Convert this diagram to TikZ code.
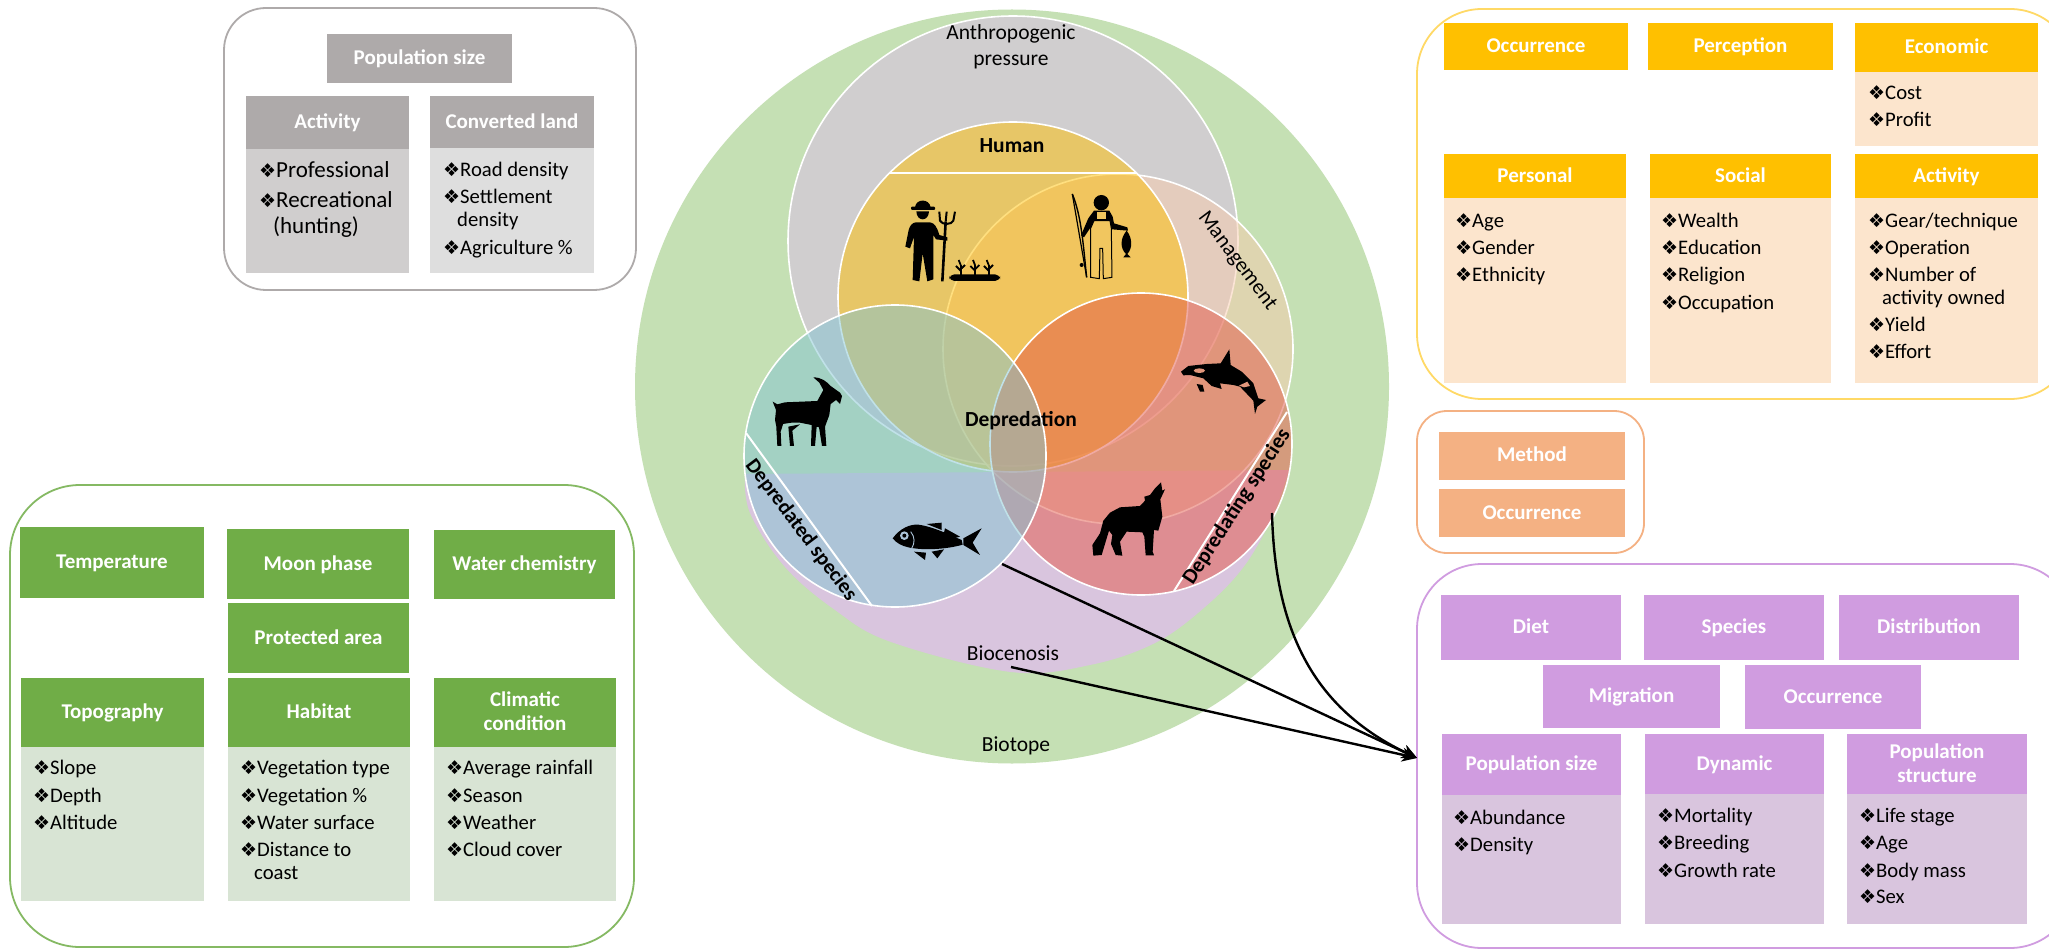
\documentclass[tikz,border=0pt]{standalone}
\usepackage{fontspec}
\setmainfont{Carlito}
\newfontfamily\djv{DejaVu Sans}
\usetikzlibrary{arrows.meta}
\definecolor{cGreen}{RGB}{197,224,180}
\definecolor{cGray}{RGB}{208,206,207}
\definecolor{cPurp}{RGB}{217,197,222}
\definecolor{cMgmt}{RGB}{248,203,173}
\definecolor{cHum}{RGB}{255,192,0}
\definecolor{cWolf}{RGB}{227,87,72}
\definecolor{cTeal}{RGB}{130,196,210}
\definecolor{hGreen}{RGB}{112,173,71}
\definecolor{bGreen}{RGB}{216,228,212}
\definecolor{hGray}{RGB}{174,170,170}
\definecolor{bGray}{RGB}{208,206,206}
\definecolor{bGray2}{RGB}{222,222,222}
\definecolor{hYel}{RGB}{255,192,0}
\definecolor{bYel}{RGB}{252,229,205}
\definecolor{hOr}{RGB}{244,177,131}
\definecolor{hPur}{RGB}{208,156,224}
\definecolor{bPur}{RGB}{217,197,222}
\definecolor{bgFish}{RGB}{172,196,216}
\definecolor{bgOrca}{RGB}{225,150,123}
\definecolor{bgMan}{RGB}{241,198,95}
\tikzset{
  venn/.style={draw=white,line width=1.6pt,fill opacity=.5,draw opacity=1},
  panel/.style={line width=1.8pt,fill=white},
  boxn/.style={inner sep=0pt,align=center,text=white,font=\fontsize{21}{24}\selectfont\bfseries},
  lbl/.style={inner sep=0pt,align=center,text=black,font=\fontsize{21.5}{26}\selectfont},
  lblb/.style={lbl,font=\fontsize{21.5}{26}\selectfont\bfseries},
  itemn/.style={inner sep=0pt,anchor=base west,text=black},
  conn/.style={black,line width=2.4pt,-{Stealth[length=15pt,width=14pt]}},
  chord/.style={white,line width=2pt},
}
\newcommand\bx[7]{%
  \pgfmathsetmacro\bw{#5-#3}\pgfmathsetmacro\bh{#6-#4}%
  \pgfmathsetmacro\bcx{(#3+#5)/2}\pgfmathsetmacro\bcy{(#4+#6)/2}%
  \node[boxn,fill=#2,minimum width=\bw pt,minimum height=\bh pt] (#1) at (\bcx,\bcy) {\raisebox{-6.5pt}[0pt][0pt]{\begin{tabular}{@{}c@{}}#7\end{tabular}}};}
\newcounter{lic}
\newcommand\li[4][20.7]{%
  \stepcounter{lic}%
  \pgfmathsetmacro\ly{#3+7.2}%
  \node[itemn,font=\fontsize{#1}{24}\selectfont] (li\thelic) at (#2,\ly) {\makebox[0pt][l]{\raisebox{-.5pt}{\djv\fontsize{19}{24}\selectfont ❖}}\hspace{17pt}#4};}
\newcommand\lc[4][20.7]{%
  \stepcounter{lic}%
  \pgfmathsetmacro\ly{#3+7.2}%
  \node[itemn,font=\fontsize{#1}{24}\selectfont] (li\thelic) at (#2,\ly) {#4};}
\begin{document}
\begin{tikzpicture}[x=1pt,y=-1pt]
\path[use as bounding box,fill=white] (0,0) rectangle (2049,949);
\clip (0,0) rectangle (2049,949);

% ---------- Venn
\fill[cGreen] (1012,386.5) circle[radius=377pt];
\filldraw[draw=white,line width=1.6pt,fill=cGray] (1013,241) circle[radius=225pt];
\fill[cPurp] plot[smooth,tension=.6] coordinates {(745,474) (750,513) (785,567) (835,610) (891,642) (1011,672) (1090,665) (1155,643) (1205,607) (1245,565) (1274,513) (1289,470)} -- cycle;
\filldraw[venn,fill=cMgmt] (1118,349) circle[radius=175pt];
\filldraw[venn,fill=cHum] (1013,297) circle[radius=175pt];
\coordinate (humL) at (889,173);
\coordinate (humR) at (1136,173);
\draw[chord] (humL) -- (humR);
\filldraw[venn,fill=cWolf] (1141,444) circle[radius=151pt];
\filldraw[venn,fill=cTeal] (895,456) circle[radius=151pt];
\coordinate (preyA) at (746,433);
\coordinate (preyB) at (872,606);
\coordinate (predA) at (1287,412);
\coordinate (predB) at (1174,591);
\draw[chord] (preyA) -- (preyB);
\draw[chord] (predA) -- (predB);

% ---------- Venn labels
\node[lbl] (tAnth) at (1011,47) {Anthropogenic\\pressure};
\node[lblb] (tHuman) at (1012,146) {Human};
\node[lbl,rotate=-53] (tMgmt) at (1237,261) {Management};
\node[lblb] (tDep) at (1021,421) {Depredation};
\node[lblb,font=\fontsize{21}{26}\selectfont\bfseries,rotate=-53] (tPrey) at (801,530) {Depredated species};
\node[lblb,rotate=57] (tPred) at (1237,507) {Depredating species};
\node[lbl] (tBioc) at (1013,653) {Biocenosis};
\node[lbl] (tBiot) at (1016,746) {Biotope};

% ---------- Farmer and fisherman (crop coordinates, 3x)
\begin{scope}[shift={(890,180)},x=0.3333pt,y=-0.3333pt]
  \fill[black,rounded corners=1pt] (63,80) rectangle (135,90);
  \fill[black] (75,82) .. controls (78,55) and (118,55) .. (122,82) -- cycle;
  \fill[black] (79,94) .. controls (80,126) and (116,126) .. (117,94) -- cycle;
  \fill[black,line join=round] (78,127) -- (120,127) .. controls (135,130) and (140,140) .. (148,165)
    -- (172,172) -- (172,182) -- (138,178) -- (130,165) -- (130,298) -- (112,304) -- (98,220)
    -- (88,304) -- (68,300) -- (72,170) -- (60,205) -- (46,200) -- (56,150) .. controls (60,135) and (68,128) .. (78,127) -- cycle;
  \draw[black,line width=2.6pt] (167,125) -- (157,304);
  \draw[black,line width=2pt] (148,95) -- (150,122) .. controls (155,135) and (185,135) .. (190,122) -- (195,95);
  \draw[black,line width=2pt] (170,95) -- (167,125);
  \fill[black,rounded corners=5pt] (178,283) rectangle (330,303);
  \foreach \sx in {212,255,296}{
    \draw[black,line width=1.8pt] (\sx,284) -- (\sx,255);
    \draw[black,line width=1.8pt] (\sx,272) -- (\sx-14,258) (\sx,268) -- (\sx+13,255) (\sx,255) -- (\sx-6,240);
  }
  % fisherman
  \draw[black,line width=1.4pt] (547,42) .. controls (575,110) and (580,200) .. (590,292);
  \draw[black,line width=1.2pt] (547,42) -- (590,292);
  \fill[black] (575,255) circle[radius=6];
  \fill[black] (634,68) circle[radius=23];
  \fill[black,line join=round] (612,92) -- (658,92) -- (668,110) -- (672,130) -- (712,142) -- (714,152) -- (666,148) -- (600,145)
     -- (582,172) -- (573,166) -- (595,115) -- cycle;
  \fill[bgMan] (622,96) rectangle (648,118);
  \filldraw[draw=black,fill=bgMan,line width=1pt] (612,122) -- (660,122) -- (664,145) -- (666,292) -- (640,296) -- (638,205) -- (630,205) -- (628,296) -- (602,292) -- (602,145) -- cycle;
  \fill[black] (710,152) .. controls (690,175) and (690,205) .. (708,222) -- (700,232) -- (722,232) -- (712,222) .. controls (728,205) and (728,175) .. (710,152) -- cycle;
\end{scope}

% ---------- Goat
\begin{scope}[shift={(760,370)},x=0.3333pt,y=-0.3333pt]
  \fill[black,line join=round] (38,95) -- (52,103) -- (75,97) -- (172,93) -- (190,60) -- (178,38) -- (160,22) .. controls (185,22) and (200,35) .. (212,48)
   -- (240,68) -- (246,78) -- (240,102) -- (228,90) -- (212,102) -- (208,135) -- (195,170) -- (199,228) -- (186,228) -- (177,172)
   -- (170,170) -- (165,228) -- (153,228) -- (155,165) -- (120,158) -- (95,158) -- (48,165) -- (45,150) -- (48,120) -- cycle;
  \fill[black] (48,155) -- (70,160) -- (62,185) -- (64,228) -- (52,228) -- cycle;
  \fill[black] (85,170) -- (120,163) -- (97,182) -- (102,228) -- (90,228) -- cycle;
\end{scope}

% ---------- Orca
\begin{scope}[shift={(1170,340)},x=0.3333pt,y=-0.3333pt]
  \fill[black,line join=round] (33,95) -- (55,78) -- (110,72) -- (152,70) -- (178,28) -- (182,75) -- (215,95) -- (250,130) -- (265,175) -- (288,180)
     -- (262,200) -- (255,222) -- (250,182) -- (210,140) -- (190,135) -- (150,130) -- (155,147) -- (125,138) -- (100,115) -- (60,105) -- (40,106) -- cycle;
  \fill[black] (80,132) -- (98,135) -- (103,155) -- (90,155) -- cycle;
  \fill[bgOrca] (88,92) ellipse[x radius=17,y radius=7];
  \fill[bgOrca] (207,137) -- (232,125) -- (240,138) -- (222,142) -- cycle;
\end{scope}

% ---------- Fish
\begin{scope}[shift={(880,510)},x=0.3333pt,y=-0.3333pt]
  \fill[black,line join=round] (38,85) .. controls (60,55) and (90,42) .. (115,44) .. controls (160,50) and (210,75) .. (245,90) -- (248,104)
     .. controls (200,118) and (130,122) .. (85,112) .. controls (65,108) and (48,98) .. (38,85) -- cycle;
  \fill[black] (250,85) -- (305,55) -- (278,98) -- (300,135) -- (250,105) -- cycle;
  \fill[black] (140,42) -- (185,38) -- (185,60) -- cycle;
  \fill[black] (195,55) -- (240,80) -- (225,84) -- (192,68) -- cycle;
  \fill[black] (102,125) -- (138,128) -- (135,150) -- cycle;
  \fill[black] (155,125) -- (192,118) -- (172,145) -- cycle;
  \fill[bgFish] (73,77) circle[radius=13];
  \fill[black] (73,77) circle[radius=6];
  \draw[bgFish,line width=.9pt] (92,65) .. controls (105,80) and (105,100) .. (95,115);
\end{scope}

% ---------- Wolf
\begin{scope}[shift={(1085,470)},x=0.3333pt,y=-0.3333pt]
  \fill[black,line join=round] (228,37) -- (232,62) -- (240,58) -- (226,88) -- (232,140) -- (220,182) -- (207,180) -- (203,245) -- (207,256) -- (182,256)
     -- (178,200) -- (172,187) -- (125,185) -- (105,215) -- (110,245) -- (112,257) -- (92,255) -- (78,222) -- (82,195) -- (72,182)
     -- (62,215) -- (50,255) -- (25,257) -- (22,225) -- (45,190) -- (55,152) -- (75,128) -- (105,112) -- (165,108) -- (180,92) -- (178,80) -- (195,75) -- (210,55) -- cycle;
\end{scope}

% ---------- Connectors
\coordinate (tip) at (1417,758);
\coordinate (fromFish) at (1002,564);
\coordinate (fromBio) at (1011,667);
\coordinate (fromWolf) at (1272,513);

% ---------- Top-left panel
\filldraw[panel,draw=hGray,rounded corners=42pt] (224,8) rectangle (636,290);
\bx{popsize}{hGray}{327}{34}{512}{83}{Population size}
\bx{actH}{hGray}{246}{96}{409}{149}{Activity}
\bx{actB}{bGray}{246}{149}{409}{273}{}
\bx{convH}{hGray}{430}{96}{594}{148}{Converted land}
\bx{convB}{bGray2}{430}{148}{594}{273}{}
\li[23]{259}{170}{Professional}
\li[23]{259}{200}{Recreational}
\lc[23]{273}{226}{(hunting)}
\li{443}{169}{Road density}
\li{443}{196}{Settlement}
\lc{457}{219}{density}
\li{443}{247}{Agriculture \%}

% ---------- Left green panel
\filldraw[panel,draw=hGreen!85,rounded corners=70pt] (10,485) rectangle (634,947);
\bx{temp}{hGreen}{20}{527}{204}{598}{Temperature}
\bx{moon}{hGreen}{227}{529}{409}{599}{Moon phase}
\bx{water}{hGreen}{434}{530}{615}{599}{Water chemistry}
\bx{prot}{hGreen}{228}{603}{409}{673}{Protected area}
\bx{topoH}{hGreen}{21}{678}{204}{747}{Topography}
\bx{topoB}{bGreen}{21}{747}{204}{901}{}
\bx{habH}{hGreen}{228}{678}{410}{747}{Habitat}
\bx{habB}{bGreen}{228}{747}{410}{901}{}
\bx{climH}{hGreen}{434}{678}{616}{747}{Climatic\\condition}
\bx{climB}{bGreen}{434}{747}{616}{901}{}
\li{33}{767}{Slope}
\li{33}{795}{Depth}
\li{33}{822}{Altitude}
\li{240}{767}{Vegetation type}
\li{240}{795}{Vegetation \%}
\li{240}{822}{Water surface}
\li{240}{849}{Distance to}
\lc{254}{872}{coast}
\li{446}{767}{Average rainfall}
\li{446}{795}{Season}
\li{446}{822}{Weather}
\li{446}{849}{Cloud cover}

% ---------- Top-right yellow panel
\filldraw[panel,draw=hYel!60,rounded corners=65pt] (1417,9) rectangle (2075,399);
\bx{occY}{hYel}{1444}{23}{1628}{70}{Occurrence}
\bx{perc}{hYel}{1648}{23}{1833}{70}{Perception}
\bx{econH}{hYel}{1855}{23}{2038}{72}{Economic}
\bx{econB}{bYel}{1855}{72}{2038}{146}{}
\bx{persH}{hYel}{1444}{154}{1626}{198}{Personal}
\bx{persB}{bYel}{1444}{198}{1626}{383}{}
\bx{socH}{hYel}{1650}{154}{1831}{198}{Social}
\bx{socB}{bYel}{1650}{198}{1831}{383}{}
\bx{actyH}{hYel}{1855}{154}{2038}{198}{Activity}
\bx{actyB}{bYel}{1855}{198}{2038}{383}{}
\li{1868}{92}{Cost}
\li{1868}{119}{Profit}
\li{1455}{220}{Age}
\li{1455}{247}{Gender}
\li{1455}{274}{Ethnicity}
\li{1661}{220}{Wealth}
\li{1661}{247}{Education}
\li{1661}{274}{Religion}
\li{1661}{302}{Occupation}
\li{1868}{220}{Gear/technique}
\li{1868}{247}{Operation}
\li{1868}{274}{Number of}
\lc{1882}{297}{activity owned}
\li{1868}{324}{Yield}
\li{1868}{351}{Effort}

% ---------- Orange panel
\filldraw[panel,draw=hOr,rounded corners=30pt] (1417,411) rectangle (1644,553);
\bx{meth}{hOr}{1439}{431.5}{1625}{480}{Method}
\bx{occO}{hOr}{1439}{489}{1625}{537}{Occurrence}

% ---------- Purple panel
\filldraw[panel,draw=hPur,rounded corners=65pt] (1417,564) rectangle (2075,948);
\bx{diet}{hPur}{1441}{595}{1621}{660}{Diet}
\bx{spec}{hPur}{1644}{595}{1824}{660}{Species}
\bx{dist}{hPur}{1839}{595}{2019}{660}{Distribution}
\bx{migr}{hPur}{1543}{665}{1720}{728}{Migration}
\bx{occP}{hPur}{1745}{665}{1921}{729}{Occurrence}
\bx{pszH}{hPur}{1442}{734}{1621}{795}{Population size}
\bx{pszB}{bPur}{1442}{795}{1621}{924}{}
\bx{dynH}{hPur}{1645}{734}{1824}{794}{Dynamic}
\bx{dynB}{bPur}{1645}{794}{1824}{924}{}
\bx{strH}{hPur}{1847}{734}{2027}{794}{Population\\structure}
\bx{strB}{bPur}{1847}{794}{2027}{924}{}
\li{1453}{817}{Abundance}
\li{1453}{844}{Density}
\li{1657}{815}{Mortality}
\li{1657}{842}{Breeding}
\li{1657}{870}{Growth rate}
\li{1859}{815}{Life stage}
\li{1859}{842}{Age}
\li{1859}{870}{Body mass}
\li{1859}{896}{Sex}

% ---------- Arrows on top
\draw[conn] (fromFish) -- (tip);
\draw[conn] (fromBio) -- (tip);
\draw[conn] (fromWolf) .. controls (1275,640) and (1320,712) .. (tip);
\end{tikzpicture}
\end{document}
